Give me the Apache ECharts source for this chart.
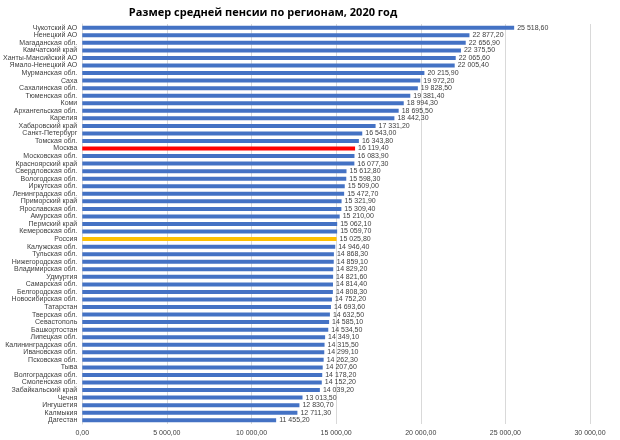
<!DOCTYPE html>
<html><head><meta charset="utf-8">
<script src="https://cdn.jsdelivr.net/npm/echarts@6/dist/echarts.min.js"></script>
<style>html,body{margin:0;padding:0;background:#fff}#c{width:620px;height:440px}</style>
</head><body><div id="c"></div>
<script>
const titleText = 'Размер средней пенсии по регионам, 2020 год';
const regions = ['Чукотский АО','Ненецкий АО','Магаданская обл.','Камчатский край','Ханты-Мансийский АО','Ямало-Ненецкий АО','Мурманская обл.','Саха','Сахалинская обл.','Тюменская обл.','Коми','Архангельская обл.','Карелия','Хабаровский край','Санкт-Петербург','Томская обл.','Москва','Московская обл.','Красноярский край','Свердловская обл.','Вологодская обл.','Иркутская обл.','Ленинградская обл.','Приморский край','Ярославская обл.','Амурская обл.','Пермский край','Кемеровская обл.','Россия','Калужская обл.','Тульская обл.','Нижегородская обл.','Владимирская обл.','Удмуртия','Самарская обл.','Белгородская обл.','Новосибирская обл.','Татарстан','Тверская обл.','Севастополь','Башкортостан','Липецкая обл.','Калининградская обл.','Ивановская обл.','Псковская обл.','Тыва','Волгоградская обл.','Смоленская обл.','Забайкальский край','Чечня','Ингушетия','Калмыкия','Дагестан'];
const pensions = [25518.60,22877.20,22656.90,22375.50,22065.60,22005.40,20215.90,19972.20,19828.50,19381.40,18994.30,18695.50,18442.30,17331.20,16543.00,16343.80,16119.40,16083.90,16077.30,15612.80,15598.30,15509.00,15472.70,15321.90,15309.40,15210.00,15062.10,15059.70,15025.80,14946.40,14868.30,14859.10,14829.20,14821.60,14814.40,14808.30,14752.20,14693.60,14632.50,14585.10,14534.50,14349.10,14315.50,14299.10,14262.30,14207.60,14178.20,14152.20,14039.20,13013.50,12830.70,12711.30,11455.20];
const highlightRed = 'Москва';
const highlightOrange = 'Россия';

function fmt(v){
  const s = v.toFixed(2).split('.');
  const int = s[0].replace(/\B(?=(\d{3})+(?!\d))/g, '\u00a0');
  return int + ',' + s[1];
}
const chart = echarts.init(document.getElementById('c'), null, {renderer:'canvas'});
const font = 'Liberation Sans';
chart.setOption({
  animation:false,
  title:{text:titleText,left:258,top:2,textAlign:'center',textStyle:{fontFamily:'Open Sans',fontSize:11,fontWeight:'bold',color:'#000'}},
  grid:{left:81,right:30,top:24,bottom:16,containLabel:false},
  xAxis:{type:'value',min:0,max:30000,interval:5000,
    axisLine:{show:false},axisTick:{show:false},
    splitLine:{show:true,lineStyle:{color:'#d9d9d9',width:1}},
    axisLabel:{fontFamily:font,fontSize:7,color:'#404040',margin:6,formatter:v=>fmt(v)}},
  yAxis:{type:'category',inverse:true,data:regions,
    axisLine:{show:true,lineStyle:{color:'#d9d9d9'}},axisTick:{show:false},
    axisLabel:{fontFamily:font,fontSize:7,color:'#404040',margin:5,interval:0}},
  series:[{type:'bar',barWidth:4,
    data:pensions.map((v,i)=>({value:v,itemStyle:{color:regions[i]===highlightRed?'#ff0000':(regions[i]===highlightOrange?'#ffc000':'#4472c4')}})),
    label:{show:true,position:'right',distance:3,fontFamily:font,fontSize:7,color:'#404040',formatter:p=>fmt(p.value)}
  }]
});
</script></body></html>
